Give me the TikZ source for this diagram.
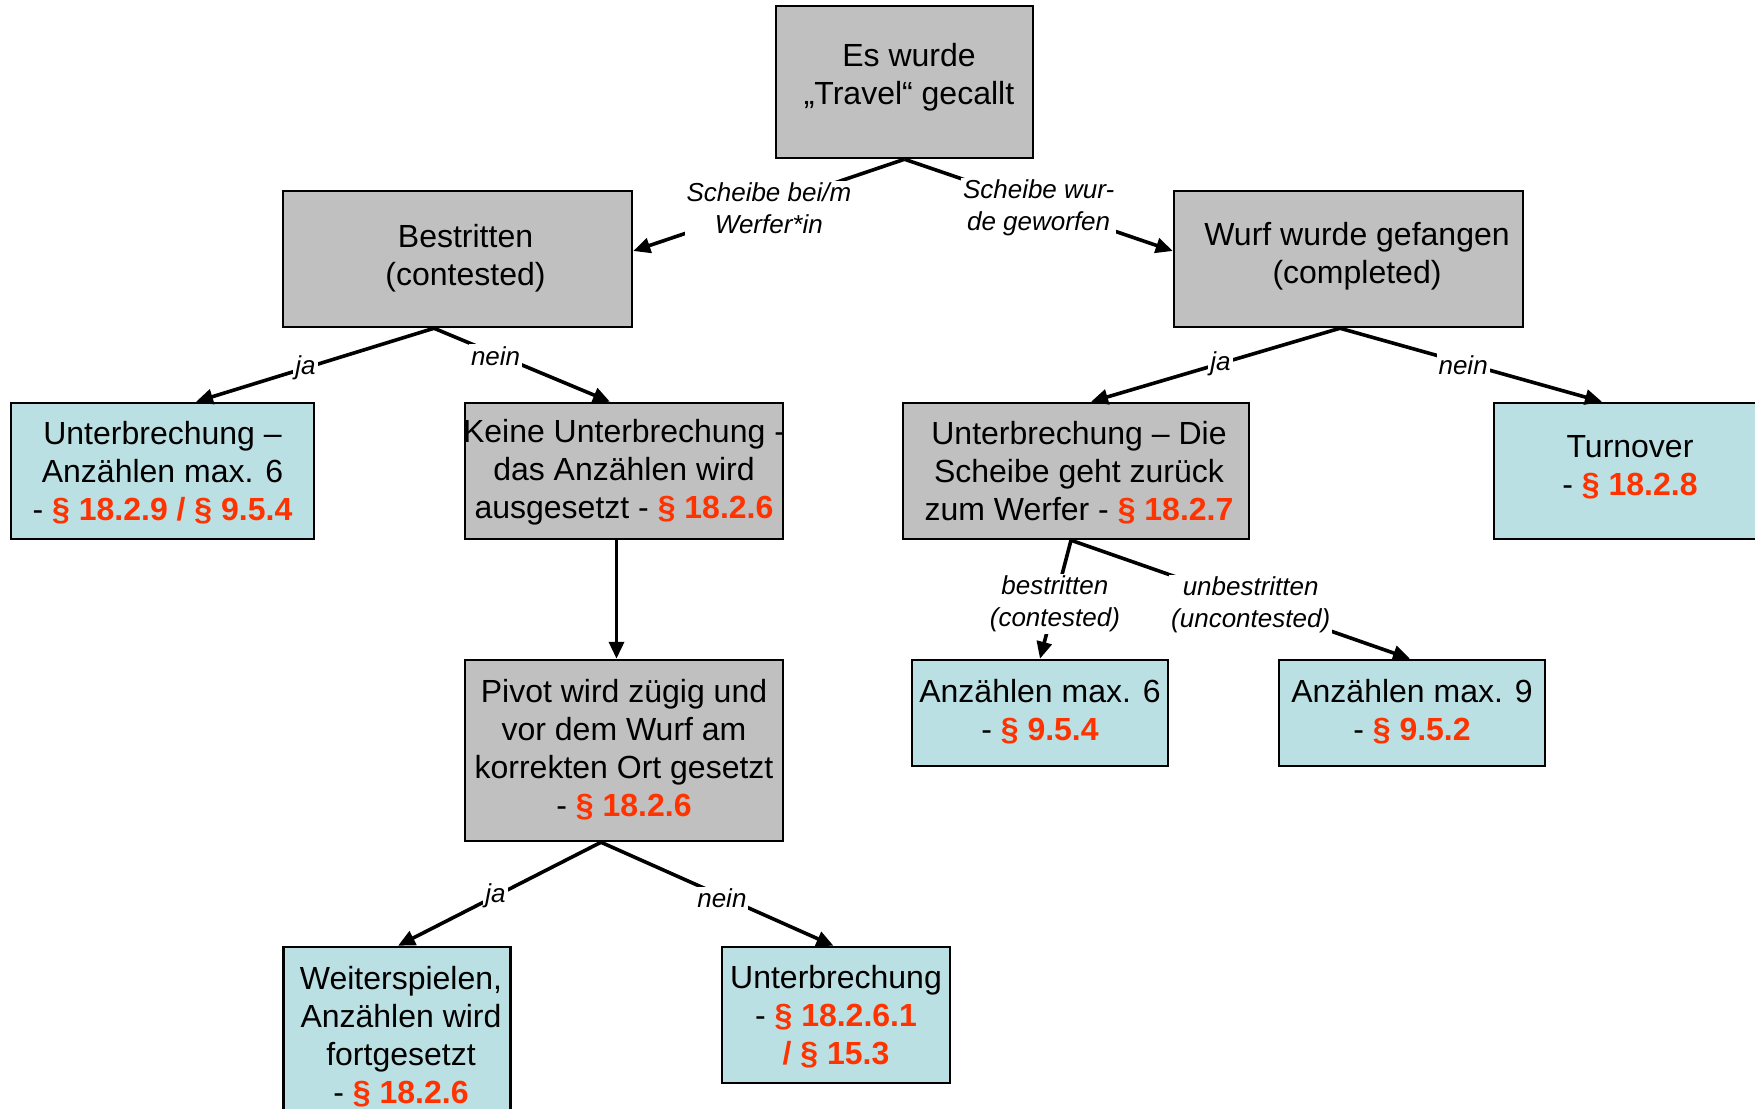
\documentclass[tikz,border=0pt]{standalone}
\usepackage{fontspec}
\setmainfont{Liberation Sans}
\usetikzlibrary{arrows.meta,calc}
\definecolor{boxgrey}{HTML}{C0C0C0}
\definecolor{boxcyan}{HTML}{BBE0E3}
\definecolor{refred}{HTML}{FF3300}
\newcommand{\rulref}[1]{{\bfseries\color{refred}#1}}

\begin{document}
\begin{tikzpicture}[x=1pt,y=1pt,
  box/.style={draw=black, line width=2.5pt, inner sep=0pt, rectangle},
  greybox/.style={box, fill=boxgrey},
  cyanbox/.style={box, fill=boxcyan},
  txt/.style={align=center, font=\fontsize{32}{38}\selectfont, inner sep=0pt},
  conn/.style={line width=3.6pt, -{Triangle[length=17pt,width=15pt]}},
  lab/.style={fill=white, inner sep=2pt, align=center,
              font=\fontsize{26}{32}\selectfont\itshape},
]
\useasboundingbox (0,0) rectangle (1755,-1108);

% boxes
\node[greybox, minimum width=257pt, minimum height=152pt] (top) at (904.5,-82) {};
\node[greybox, minimum width=349pt, minimum height=136pt] (cont) at (457.5,-259) {};
\node[greybox, minimum width=349pt, minimum height=136pt] (caught) at (1348.5,-259) {};
\node[cyanbox, minimum width=303pt, minimum height=136pt] (stop6) at (162.5,-471) {};
\node[greybox, minimum width=318pt, minimum height=136pt] (nostop) at (624,-471) {};
\node[greybox, minimum width=346pt, minimum height=136pt] (back) at (1076,-471) {};
\node[cyanbox, minimum width=276pt, minimum height=136pt] (turn) at (1632,-471) {};
\node[greybox, minimum width=318pt, minimum height=181pt] (pivot) at (624,-750.5) {};
\node[cyanbox, minimum width=256pt, minimum height=106pt] (max6) at (1040,-713) {};
\node[cyanbox, minimum width=266pt, minimum height=106pt] (max9) at (1412,-713) {};
\node[cyanbox, minimum width=227pt, minimum height=176pt] (play) at (397,-1035) {};
\node[cyanbox, minimum width=228pt, minimum height=136pt] (stop) at (836,-1015) {};

% box texts
\node[txt] (topT) at ([xshift=4.5pt,yshift=5pt]top.center) {Es wurde\\„Travel“ gecallt};
\node[txt] (contT) at ([xshift=8pt,yshift=1pt]cont.center) {Bestritten\\(contested)};
\node[txt] (caughtT) at ([xshift=8.5pt,yshift=3pt]caught.center) {Wurf wurde gefangen\\(completed)};
\node[txt] (stop6T) at ([yshift=-2pt]stop6.center) {Unterbrechung –\\Anzählen max. 6\\- \rulref{§ 18.2.9 / § 9.5.4}};
\node[txt] (nostopT) at ([yshift=-1pt]nostop.center) {Keine Unterbrechung -\\das Anzählen wird\\ausgesetzt - \rulref{§ 18.2.6}};
\node[txt] (backT) at ([xshift=3pt,yshift=-2pt]back.center) {Unterbrechung – Die\\Scheibe geht zurück\\zum Werfer - \rulref{§ 18.2.7}};
\node[txt] (turnT) at ([xshift=-2pt,yshift=4pt]turn.center) {Turnover\\- \rulref{§ 18.2.8}};
\node[txt] (pivotT) at ([yshift=1pt]pivot.center) {Pivot wird zügig und\\vor dem Wurf am\\korrekten Ort gesetzt\\- \rulref{§ 18.2.6}};
\node[txt] (max6T) at ([yshift=1pt]max6.center) {Anzählen max. 6\\- \rulref{§ 9.5.4}};
\node[txt] (max9T) at ([yshift=1pt]max9.center) {Anzählen max. 9\\- \rulref{§ 9.5.2}};
\node[txt] (playT) at ([xshift=4pt,yshift=-2pt]play.center) {Weiterspielen,\\Anzählen wird\\fortgesetzt\\- \rulref{§ 18.2.6}};
\node[txt] (stopT) at ([yshift=-2pt]stop.center) {Unterbrechung\\- \rulref{§ 18.2.6.1}\\\rulref{/ § 15.3}};

% connectors
\draw[conn] (top.south) -- node[lab,pos=.5,yshift=-3pt] {Scheibe bei/m\\Werfer*in} ([yshift=8pt]cont.east);
\draw[conn] (top.south) -- node[lab,pos=.5,yshift=-3pt] {Scheibe wur-\\de geworfen} ([yshift=8pt]caught.west);

\draw[conn] ([xshift=-23.5pt]cont.south) -- node[lab,pos=.54] {ja} ([xshift=33.5pt]stop6.north);
\draw[conn] ([xshift=-23.5pt]cont.south) -- node[lab,pos=.35,yshift=-2pt] {nein} ([xshift=-14pt]nostop.north);

\draw[conn] ([xshift=-8.5pt]caught.south) -- node[lab,pos=.48] {ja} ([xshift=15pt]back.north);
\draw[conn] ([xshift=-8.5pt]caught.south) -- node[lab,pos=.47,yshift=-2pt] {nein} ([xshift=-30pt]turn.north);

\draw[conn] ([xshift=-7.5pt]nostop.south) -- ([xshift=-7.5pt]pivot.north);

\draw[conn] ([xshift=-5pt]back.south) -- node[lab,pos=.52,yshift=-2pt] {bestritten\\(contested)} (max6.north);
\draw[conn] ([xshift=-5pt]back.south) -- node[lab,pos=.53,yshift=-2pt] {unbestritten\\(uncontested)} ([xshift=-2pt]max9.north);

\draw[conn] ([xshift=-23pt]pivot.south) -- node[lab,pos=.52] {ja} ([xshift=1pt]play.north);
\draw[conn] ([xshift=-23pt]pivot.south) -- node[lab,pos=.52,yshift=-2pt] {nein} ([xshift=-2.5pt]stop.north);
\end{tikzpicture}
\end{document}
